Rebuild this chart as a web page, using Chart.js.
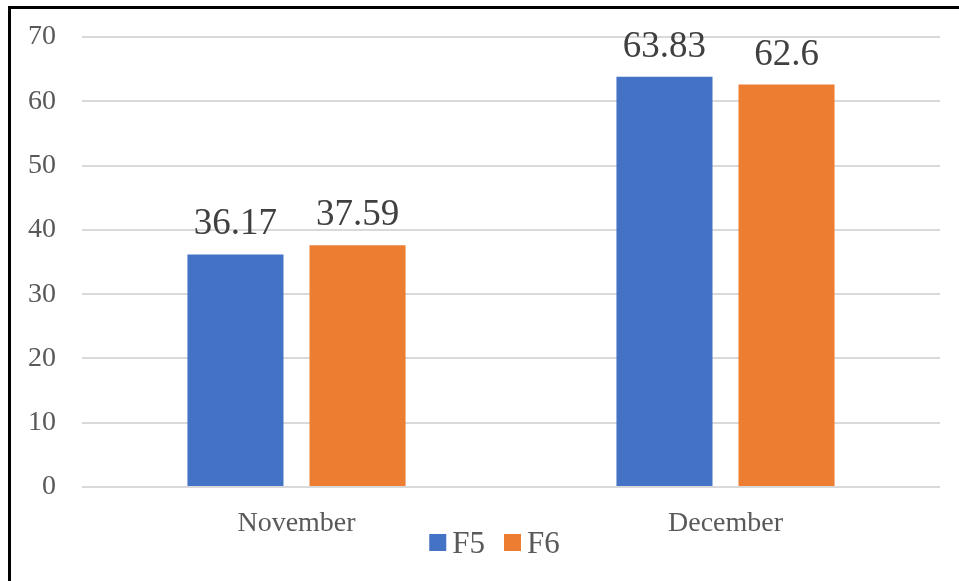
<!DOCTYPE html>
<html>
<head>
<meta charset="utf-8">
<script src="https://cdn.jsdelivr.net/npm/chart.js@4/dist/chart.umd.min.js"></script>
<style>
  html, body { margin: 0; padding: 0; background: #fff; }
  #wrap { width: 959px; height: 581px; position: relative; }
</style>
</head>
<body>
<div id="wrap"><canvas id="chart" width="959" height="581"></canvas></div>
<script>
const months = ['November', 'December'];
const f5 = [36.17, 63.83];
const f6 = [37.59, 62.6];
const seriesNames = ['F5', 'F6'];

const serif = "'Liberation Serif', 'Times New Roman', serif";

// outer frame (only top/left edges are visible in the picture)
const framePlugin = {
  id: 'frame',
  afterDraw(chart) {
    const ctx = chart.ctx;
    ctx.save();
    ctx.strokeStyle = '#000';
    ctx.lineWidth = 3;
    ctx.beginPath();
    ctx.moveTo(9.5, 581);
    ctx.lineTo(9.5, 7.5);
    ctx.lineTo(959, 7.5);
    ctx.stroke();
    ctx.restore();
  }
};

// value labels above bars
const valueLabels = {
  id: 'valueLabels',
  afterDatasetsDraw(chart) {
    const ctx = chart.ctx;
    ctx.save();
    ctx.font = '37px ' + serif;
    ctx.fillStyle = '#404040';
    ctx.textAlign = 'center';
    ctx.textBaseline = 'alphabetic';
    chart.data.datasets.forEach((ds, i) => {
      chart.getDatasetMeta(i).data.forEach((bar, j) => {
        ctx.fillText(String(ds.data[j]), bar.x, bar.y - 20);
      });
    });
    ctx.restore();
  }
};

// legend drawn by hand so it can sit close under the axis labels
const legendPlugin = {
  id: 'bottomLegend',
  afterDraw(chart) {
    const ctx = chart.ctx;
    ctx.save();
    ctx.font = '31px ' + serif;
    const box = 17, gap = 6, itemGap = 19;
    const items = chart.data.datasets.map(ds => ({ text: ds.label, color: ds.backgroundColor, w: ctx.measureText(ds.label).width }));
    let total = 0;
    items.forEach((it, i) => { total += box + gap + it.w + (i ? itemGap : 0); });
    let x = 494.5 - total / 2;
    const cy = 542.5;
    items.forEach(it => {
      ctx.fillStyle = it.color;
      ctx.fillRect(x, cy - box / 2, box, box);
      x += box + gap;
      ctx.fillStyle = '#595959';
      ctx.textBaseline = 'alphabetic';
      ctx.fillText(it.text, x, 553);
      x += it.w + itemGap;
    });
    ctx.restore();
  }
};

new Chart(document.getElementById('chart').getContext('2d'), {
  type: 'bar',
  data: {
    labels: months,
    datasets: [
      { label: seriesNames[0], data: f5, backgroundColor: '#4472C4' },
      { label: seriesNames[1], data: f6, backgroundColor: '#ED7D31' }
    ]
  },
  options: {
    responsive: false,
    animation: false,
    layout: { padding: { top: 37, right: 19, bottom: 34, left: 0 } },
    datasets: {
      bar: { categoryPercentage: 0.569, barPercentage: 0.787 }
    },
    scales: {
      x: {
        grid: { display: false },
        border: { display: false },
        ticks: { color: '#595959', font: { family: serif, size: 28 }, padding: 12 },
        afterFit(s) { s.height = 60; s.paddingLeft = 0; s.paddingRight = 0; }
      },
      y: {
        min: 0,
        max: 70,
        ticks: { stepSize: 10, color: '#595959', font: { family: serif, size: 28 }, padding: 26 },
        grid: { color: '#D9D9D9', lineWidth: 2, drawTicks: false },
        border: { display: false },
        afterFit(s) { s.width = 82; s.paddingTop = 0; s.paddingBottom = 0; }
      }
    },
    plugins: {
      legend: { display: false },
      tooltip: { enabled: false }
    }
  },
  plugins: [framePlugin, valueLabels, legendPlugin]
});
</script>
</body>
</html>
